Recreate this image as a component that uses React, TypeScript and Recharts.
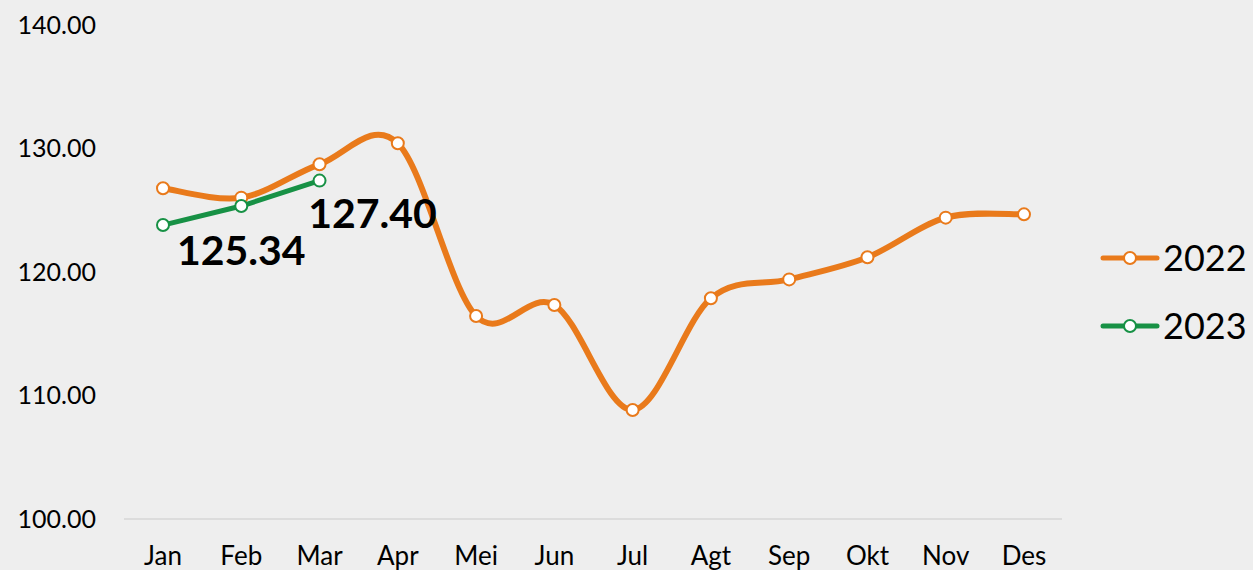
import React from 'react';
import { LineChart, Line, XAxis, YAxis, Legend, LabelList } from 'recharts';

const months = ['Jan', 'Feb', 'Mar', 'Apr', 'Mei', 'Jun', 'Jul', 'Agt', 'Sep', 'Okt', 'Nov', 'Des'];
const values2022 = [126.78, 126.02, 128.72, 130.42, 116.44, 117.33, 108.83, 117.87, 119.4, 121.19, 124.4, 124.67];
const values2023: (number | null)[] = [123.8, 125.34, 127.4, null, null, null, null, null, null, null, null, null];
const yTicks = [100, 110, 120, 130, 140];
const labeledIdx2023 = [1, 2];

const data = months.map((m, i) => ({ month: m, y2022: values2022[i], y2023: values2023[i] }));

const ORANGE = '#E97A1B';
const GREEN = '#179145';
const FONT = 'Lato, "Open Sans", sans-serif';

// Excel-like smoothing (Catmull-Rom as cubic Bezier)
function excelSmooth(context: any) {
  let pts: [number, number][] = [];
  return {
    areaStart() {},
    areaEnd() {},
    lineStart() {
      pts = [];
    },
    point(x: number, y: number) {
      pts.push([+x, +y]);
    },
    lineEnd() {
      const n = pts.length;
      if (n === 0) return;
      context.moveTo(pts[0][0], pts[0][1]);
      if (n === 1) return;
      for (let i = 0; i < n - 1; i++) {
        const p0 = pts[Math.max(0, i - 1)];
        const p1 = pts[i];
        const p2 = pts[i + 1];
        const p3 = pts[Math.min(n - 1, i + 2)];
        const c1x = p1[0] + (p2[0] - p0[0]) / 6;
        const c1y = p1[1] + (p2[1] - p0[1]) / 6;
        const c2x = p2[0] - (p3[0] - p1[0]) / 6;
        const c2y = p2[1] - (p3[1] - p1[1]) / 6;
        context.bezierCurveTo(c1x, c1y, c2x, c2y, p2[0], p2[1]);
      }
    },
  };
}

const renderLabel = (props: any) => {
  const { x, y, value, index } = props;
  if (!labeledIdx2023.includes(index) || value == null) return null;
  const off = index === 1 ? { dx: 0, dy: 59 } : { dx: 53, dy: 47 };
  return (
    <text
      x={x + off.dx}
      y={y + off.dy}
      textAnchor="middle"
      fontFamily={FONT}
      fontWeight={700}
      fontSize={41}
      fill="#000"
    >
      {Number(value).toFixed(2)}
    </text>
  );
};

const renderLegend = (props: any) => {
  const payload = props.payload || [];
  return (
    <div>
      {payload.map((item: any) => (
        <div key={item.value} style={{ display: 'flex', alignItems: 'center', height: 68 }}>
          <svg width={60} height={20} style={{ display: 'block' }}>
            <line x1={3} y1={10} x2={57} y2={10} stroke={item.color} strokeWidth={5} strokeLinecap="round" />
            <circle cx={30} cy={10} r={6} fill="#fff" stroke={item.color} strokeWidth={2} />
          </svg>
          <span style={{ fontFamily: FONT, fontSize: 36, color: '#000', marginLeft: 3, lineHeight: 1.2 }}>
            {item.value}
          </span>
        </div>
      ))}
    </div>
  );
};

export default function App() {
  return (
    <div style={{ position: 'absolute', left: 0, top: 0, width: 1253, height: 570, background: '#EEEEEE' }}>
      <LineChart width={1253} height={570} data={data} margin={{ top: 25, right: 191, bottom: 0, left: 0 }}>
        <XAxis
          dataKey="month"
          height={51}
          padding={{ left: 39, right: 38 }}
          axisLine={{ stroke: '#D6D6D6', strokeWidth: 1.5 }}
          tickLine={false}
          tickSize={0}
          tickMargin={28}
          tick={{ fontFamily: FONT, fontSize: 26, fill: '#000' }}
          interval={0}
        />
        <YAxis
          width={124}
          domain={[100, 140]}
          ticks={yTicks}
          axisLine={false}
          tickLine={false}
          tickSize={0}
          tickMargin={28}
          tickFormatter={(v: number) => v.toFixed(2)}
          tick={{ fontFamily: FONT, fontSize: 25, fill: '#000' }}
          allowDataOverflow
        />
        <Legend
          layout="vertical"
          align="center"
          verticalAlign="middle"
          content={renderLegend}
          wrapperStyle={{ left: 1100, top: 224, width: 153 }}
        />
        <Line
          name="2022"
          dataKey="y2022"
          type={excelSmooth as any}
          stroke={ORANGE}
          strokeWidth={6}
          dot={{ r: 6, fill: '#fff', stroke: ORANGE, strokeWidth: 2 }}
          activeDot={false}
          isAnimationActive={false}
        />
        <Line
          name="2023"
          dataKey="y2023"
          type="linear"
          stroke={GREEN}
          strokeWidth={5}
          dot={{ r: 6, fill: '#fff', stroke: GREEN, strokeWidth: 2 }}
          activeDot={false}
          isAnimationActive={false}
          connectNulls={false}
        >
          <LabelList dataKey="y2023" content={renderLabel} />
        </Line>
      </LineChart>
    </div>
  );
}
